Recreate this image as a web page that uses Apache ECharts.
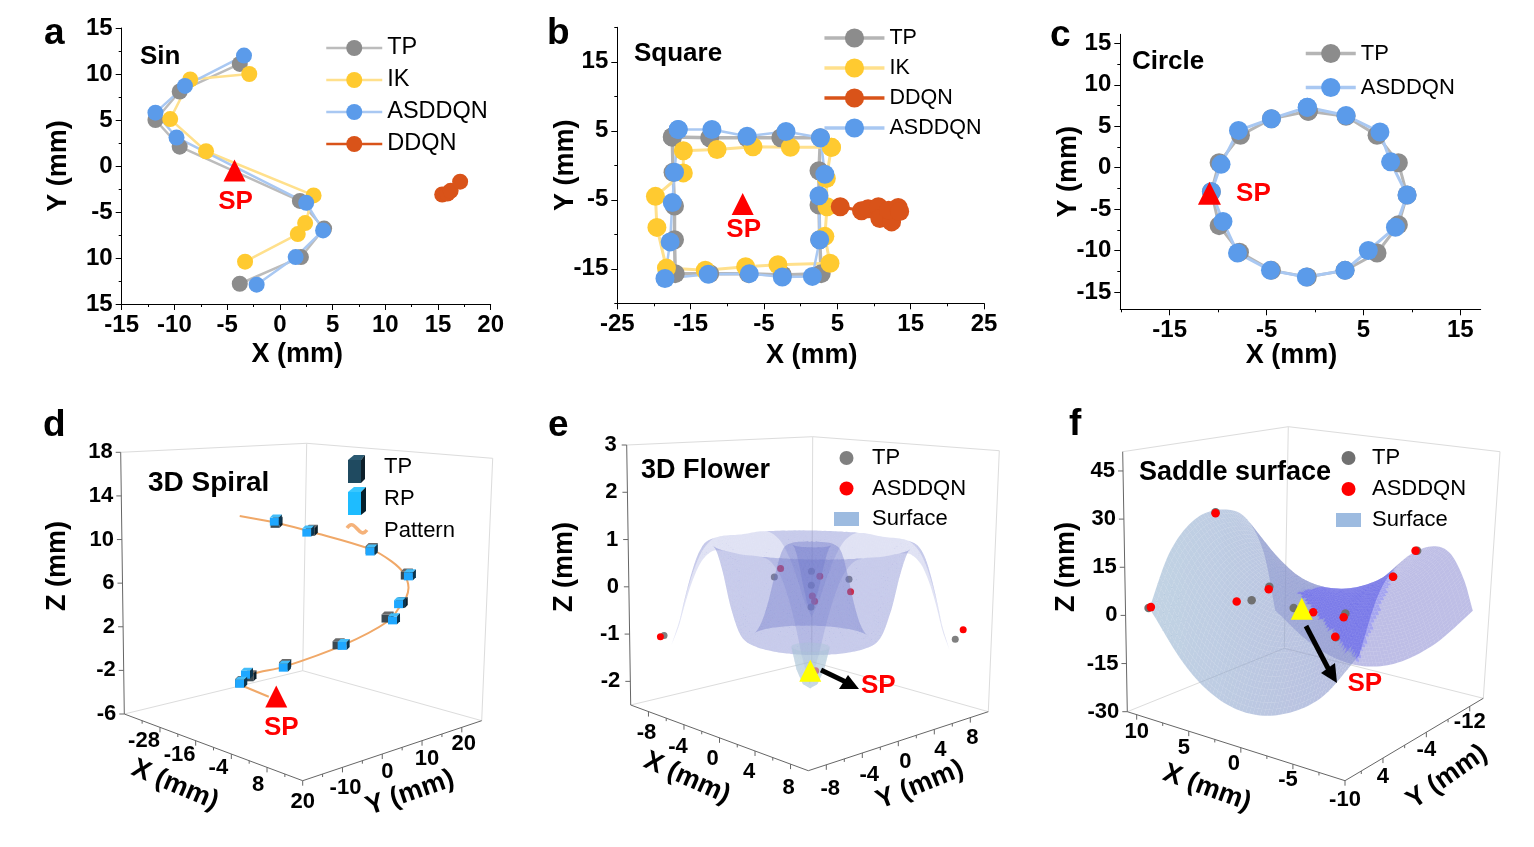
<!DOCTYPE html>
<html><head><meta charset="utf-8">
<style>html,body{margin:0;padding:0;background:#fff}#c{width:1534px;height:847px}</style>
<script src="https://cdn.jsdelivr.net/npm/echarts@6/dist/echarts.min.js"></script></head>
<body><div id="c"></div>
<script>
// ---------- panel a (Sin) ----------
const aTP=[[-3.8,11.1],[-9.5,8.1],[-11.8,5.0],[-9.5,2.1],[1.9,-3.8],[4.2,-6.8],[2.0,-9.9],[-3.8,-12.8]];
const aIK=[[-2.9,10.0],[-8.5,9.4],[-10.4,5.1],[-7.0,1.6],[3.2,-3.2],[2.4,-6.2],[1.7,-7.4],[-3.3,-10.4]];
const aASD=[[-3.4,12.0],[-9.0,8.7],[-11.8,5.8],[-9.8,3.1],[2.5,-4.0],[4.1,-7.0],[1.5,-9.9],[-2.2,-12.9]];
const aDDQN=[[15.4,-3.1],[15.9,-3.0],[16.2,-2.7],[17.1,-1.7]];
const aSP=[-4.3,-0.5];
const aXTicks=[-15,-10,-5,0,5,10,15,20];
const aYTicks=[15,10,5,0,-5,-10,-15];
const aYLabels=['15','10','5','0','-5','10','15'];
// ---------- panel b (Square) ----------
const bTP=[[-17.5,4.1],[-12.4,4],[-7.3,4],[-2.7,4],[2.7,4],[2.5,-0.8],[2.5,-5.75],[2.6,-10.8],[2.8,-15.7],[-2.5,-15.9],[-7.1,-15.7],[-12.4,-15.7],[-17.1,-15.7],[-17.2,-10.8],[-17.2,-5.9],[-17.4,-1]];
const bIK=[[4.2,2.6],[-1.4,2.6],[-6.5,2.7],[-11.4,2.3],[-16,2.1],[-16,-1.1],[-19.8,-4.5],[-19.6,-9],[-18.3,-14.9],[-13,-15.2],[-7.5,-14.7],[-3.1,-14.4],[4,-14.2],[3.3,-10.3],[3.6,-6],[3.5,-1.9]];
const bASD=[[-16.7,5.2],[-12.1,5.2],[-7.3,4.2],[-2,4.9],[2.7,4],[3.3,-1.3],[2.5,-4.4],[2.6,-10.8],[1.6,-16.1],[-2.5,-16.2],[-7,-15.7],[-12.6,-15.8],[-18.5,-16.4],[-17.8,-11.1],[-17.5,-5.4],[-17.2,-1]];
const bDDQN=[[5.4,-6],[8.3,-6.6],[9.2,-6.3],[10.6,-6],[10.8,-7.7],[12.4,-8.2],[12,-6.5],[13.3,-6.1],[13.5,-6.7]];
const bSP=[-7.9,-5.6];
const bXTicks=[-25,-15,-5,5,15,25], bXMinor=[-20,-10,0,10,20];
const bYTicks=[15,5,-5,-15], bYMinor=[20,10,0,-10,-20];
// ---------- panel c (Circle) ----------
const cTP=[[-0.7,6.8],[3.2,6.2],[6.4,3.9],[8.6,0.6],[9.5,-3.3],[8.6,-6.9],[6.4,-10.3],[3.1,-12.4],[-0.8,-13.2],[-4.5,-12.4],[-7.8,-10.2],[-9.9,-7],[-10.7,-2.9],[-9.9,0.6],[-7.7,3.9],[-4.5,5.9]];
const cASD=[[-0.8,7.3],[3.2,6.3],[6.7,4.3],[7.8,0.7],[9.5,-3.3],[8.3,-7.2],[5.5,-10],[3.1,-12.4],[-0.9,-13.2],[-4.6,-12.4],[-8,-10.3],[-9.5,-6.5],[-10.7,-2.9],[-9.7,0.4],[-7.9,4.5],[-4.5,5.9]];
const cSP=[-10.9,-3.1];
const cXTicks=[-15,-5,5,15], cXMinor=[-20,-10,0,10];
const cYTicks=[15,10,5,0,-5,-10,-15], cYMinor=[12.5,7.5,2.5,-2.5,-7.5,-12.5];
// ---------- panel d (3D Spiral), [x,y,z] ----------
const dPattern=[[-20.8,-5.6,12.35],[-14.9,-1.2,11.8],[-9.3,3,11.07],[0.8,10.6,9.53],[4.1,13.1,8.49],[6.1,14.6,7.47],[7,15.3,6.13],[6.7,15,5.23],[5.8,14.4,4.54],[3.9,12.9,3.12],[-3.4,7.4,0.94],[-13.2,0.1,-1.1],[-18.9,-4.1,-1.91],[-20.3,-5.2,-2.62]];
const dStartLink=[[-20,-5,-2.97],[-15.8,-1.8,-3.85]];
const dRP=[[-14.9,-1.2,12],[-9.6,2.8,11.06],[0.8,10.6,9.45],[7.2,15.4,7.25],[5.7,14.3,4.73],[4.8,13.6,3.27],[-3.4,7.4,0.94],[-13.1,0.1,-1.1],[-19.4,-4.6,-1.82],[-20.4,-5.3,-2.66]];
const dTP=[[-14.8,-1.1,11.8],[-9,3.2,11.14],[0.8,10.6,9.58],[6.7,15,7.32],[6,14.5,4.75],[3.7,12.8,3.43],[-4.3,6.8,0.98],[-13.1,0.2,-0.95],[-18.9,-4.1,-2.06],[-20.4,-5.3,-2.6]];
const dSP=[-14.5,-0.9,-3.81];
const dXTicks=[-28,-16,-4,8,20], dYTicks=[-10,0,10,20], dZTicks=[18,14,10,6,2,-2,-6];
// ---------- panel e (3D Flower) ----------
const eTP=[[-8.1,-8.1,-1.0],[-2.03,-2.03,0.29],[2.06,2.06,0.27],[0,0,0.13],[0,0,0.42],[0,0,-0.32],[8,8,-0.97]];
const eASD=[[-8.3,-8.3,-1.03],[-1.69,-1.69,0.47],[0.46,0.46,0.32],[2.16,2.16,0.01],[0.06,0.06,-0.09],[0.19,0.19,-0.2],[8.42,8.42,-0.77],[0.3,0.3,-1.64]];
const eSP=[0,0,-1.64];
const flowerEdge=7.7;
const flowerRadius=[0,0.3,0.6,1.0,1.4,1.9,2.3,2.8,3.4,3.9,4.4,5.0,5.6,6.3,6.9,7.5,8.2,8.8,9.3,9.8,10.3,10.9];
const flowerHeight=[-0.42,-0.25,0.1,0.6,0.95,0.95,0.82,0.35,-0.3,-0.7,-0.92,-1.0,-0.85,-0.3,0.42,0.9,0.95,0.7,0.3,-0.2,-0.75,-1.2];
const tipRadius=[0,0.6,1.1,1.5];
const tipHeight=[-2.0,-1.9,-1.6,-1.15];
const eXTicks=[-8,-4,0,4,8], eYTicks=[-8,-4,0,4,8], eZTicks=[3,2,1,0,-1,-2];
// ---------- panel f (Saddle surface) ----------
const fTP=[[9.6,9.5,2.4],[5.9,4.9,31.9],[2.9,1.2,8.6],[3.9,2.4,4.5],[1.5,-0.5,1.9],[-1.5,-4.1,-0.2],[-0.95,-3.5,-7.6],[-4.2,-7.4,11],[-5.5,-9.1,19]];
const fASD=[[9.5,9.3,2.6],[5.9,4.9,31.6],[2.9,1.3,7.9],[4.7,3.5,4.2],[0.4,-1.9,0.4],[-1.4,-4,-1.4],[-0.9,-3.5,-7.5],[-4.2,-7.4,11],[-5.4,-9,19]];
const fSP=[1,-1,1.7];
const saddleX=[10,6.9,4,0.8,-2.7,-6.4,-10];
const saddleY=[8.7,5.2,1,-3.5,-6.8,-9.5,-11.5];
const saddleZ=[
 [1.5,18,26.5,27,22,9,-13],
 [-12.5,4,13.3,15.4,10.9,-2,-20.5],
 [-20,-4,6.3,9.1,4.2,-8,-24.5],
 [-22.5,-7,4,7,2,-10.4,-25],
 [-20,-4,6.3,9.1,4.2,-8,-21],
 [-12.5,4,13,15.4,10.9,-1,-12],
 [1.5,17,24,25.5,22,12.5,1]];
const fXTicks=[10,5,0,-5,-10], fYTicks=[4,-4,-12], fZTicks=[45,30,15,0,-15,-30];

// ---------- styling ----------
const FONT='"Liberation Sans", Arial, sans-serif';
const GREY='#8c8c8c',GREYL='#bcbcbc',YEL='#ffca30',YELL='#ffe08c',BLUE='#5b9bea',BLUEL='#a9c8f2',ORG='#d95319';
const series=[],xAxes=[],yAxes=[],grids=[],legends=[],graphics=[];
const close=a=>a.concat([a[0]]);

function T(x,y,text,size,o={}){graphics.push({type:'text',x,y,z:20,rotation:o.rot||0,silent:true,
 style:{text,font:`${o.weight||'bold'} ${size}px ${FONT}`,fill:o.fill||'#000',align:o.align||'left',verticalAlign:'middle'}});}

function cart(i,box,xr,yr,xt,yt,xm,ym,xf,yf,xName,yName){
 grids.push({left:box[0],top:box[1],width:box[2],height:box[3],containLabel:false});
 const ax=(range,major,fmt,pos,name,gap,pad,rot)=>({type:'value',min:range[0],max:range[1],position:pos,
   name,nameLocation:'middle',nameGap:gap,nameRotate:rot,nameMoveOverlap:false,
   nameTextStyle:{fontFamily:FONT,fontWeight:'bold',fontSize:27,color:'#000',padding:pad},
   axisLine:{show:true,onZero:false,lineStyle:{color:'#000',width:1}},
   axisTick:{show:true,length:6,customValues:major,lineStyle:{color:'#000'}},
   axisLabel:{show:true,customValues:major,margin:9,fontFamily:FONT,fontWeight:'bold',fontSize:24,color:'#000',formatter:fmt,hideOverlap:false},
   splitLine:{show:false}});
 const mn=(range,minor,pos)=>({type:'value',min:range[0],max:range[1],position:pos,
   axisLine:{show:false,onZero:false},axisTick:{show:true,length:3,customValues:minor,lineStyle:{color:'#000'}},
   axisLabel:{show:false},splitLine:{show:false}});
 xAxes.push(ax(xr,xt,xf,'bottom',xName[0],xName[1],xName[2],0),Object.assign(mn(xr,xm,'bottom'),{gridIndex:i}));
 xAxes[xAxes.length-2].gridIndex=i;
 yAxes.push(ax(yr,yt,yf,'left',yName[0],yName[1],yName[2],90),Object.assign(mn(yr,ym,'left'),{gridIndex:i}));
 yAxes[yAxes.length-2].gridIndex=i;
}
function lineS(name,i,data,col,lcol,lw,size){series.push({type:'line',name,data,xAxisIndex:i*2,yAxisIndex:i*2,
 symbol:'circle',symbolSize:size,showSymbol:true,itemStyle:{color:col,opacity:1},lineStyle:{color:lcol,width:lw},z:3});}
function spMark(name,i,pt,col,size,off,zz){series.push({type:'scatter',name,data:[pt],xAxisIndex:i*2,yAxisIndex:i*2,symbol:'triangle',symbolSize:size,
 itemStyle:{color:col,opacity:1},z:zz||6,label:{show:true,formatter:'SP',position:'inside',offset:off,color:'#ff0000',fontFamily:FONT,fontWeight:'bold',fontSize:26}});}
function legend2D(left,top,data,w,h,gap,font,lw){legends.push({show:true,left,top,padding:0,orient:'vertical',data,itemWidth:w,itemHeight:h,itemGap:gap,selectedMode:false,
 lineStyle:{width:lw},formatter:n=>n.split(':')[1],textStyle:{fontFamily:FONT,fontSize:font,color:'#000',padding:0}});}

// a
cart(0,[121.7,28,369,276],[-15,20],[-15,15],aXTicks,aYTicks,[-12.5,-7.5,-2.5,2.5,7.5,12.5,17.5],[12.5,7.5,2.5,-2.5,-7.5,-12.5],
 v=>String(v),v=>aYLabels[aYTicks.indexOf(v)],['X (mm)',37,[0,18,0,0]],['Y (mm)',50,0]);
lineS('a:DDQN',0,aDDQN,ORG,ORG,2.5,16);lineS('a:TP',0,aTP,GREY,GREYL,2.5,16);lineS('a:IK',0,aIK,YEL,YELL,2.5,16);lineS('a:ASDDQN',0,aASD,BLUE,BLUEL,2.5,16);
spMark('SP a',0,aSP,'#ff0000',22,[1,31]);
legend2D(325,36,['a:TP','a:IK','a:ASDDQN','a:DDQN'],56,20,8,23.5,2.5);
// b
cart(1,[617.3,27.3,366.7,276],[-25,25],[-20,20],bXTicks,bYTicks,bXMinor,bYMinor,v=>String(v),v=>String(v),['X (mm)',39,[0,0,0,22]],['Y (mm)',38.5,0]);
lineS('b:TP',1,close(bTP),GREY,'#b5b5b5',3.5,19);lineS('b:IK',1,close(bIK),YEL,YELL,3,19);lineS('b:DDQN',1,bDDQN,ORG,ORG,3,19);lineS('b:ASDDQN',1,close(bASD),BLUE,BLUEL,2.5,19);
spMark('SP b',1,bSP,'#ff0000',22,[1,26]);
legend2D(822.7,27,['b:TP','b:IK','b:DDQN','b:ASDDQN'],60,24,8,21.5,3.5);
// c
cart(2,[1120.3,34.3,360.4,275],[-20.1,17.1],[-17.1,16.1],cXTicks,cYTicks,cXMinor,cYMinor,v=>String(v),v=>String(v),['X (mm)',33,[0,18,0,0]],['Y (mm)',38.5,0]);
lineS('c:TP',2,close(cTP),GREY,'#b5b5b5',3,19);lineS('c:ASDDQN',2,close(cASD),BLUE,BLUEL,3,19);
spMark('SP c',2,cSP,'#ff0000',23,[44,0]);
legend2D(1304,42.5,['c:TP','c:ASDDQN'],50,24,12,22,3.5);

// ---------- hidden page-plane grid for the three projected 3-D boxes ----------
grids.push({left:0,top:0,width:1534,height:847,containLabel:false});
xAxes.push({type:'value',gridIndex:3,min:0,max:1534,show:false});xAxes.push({type:'value',gridIndex:3,min:0,max:1534,show:false});
yAxes.push({type:'value',gridIndex:3,min:0,max:847,inverse:true,show:false});yAxes.push({type:'value',gridIndex:3,min:0,max:847,inverse:true,show:false});
const S3={xAxisIndex:6,yAxisIndex:6,coordinateSystem:'cartesian2d'};

function makeBox(L,F,R,B,tL,tF,tR,tB,mapU,mapV,mapW){
 const tri=(u,v,w)=>{const r=[];for(let k=0;k<2;k++){
   const fl=L[k]*(1-u)*(1-v)+F[k]*u*(1-v)+B[k]*(1-u)*v+R[k]*u*v;
   const tp=tL[k]*(1-u)*(1-v)+tF[k]*u*(1-v)+tB[k]*(1-u)*v+tR[k]*u*v;
   r.push(fl*(1-w)+tp*w);}return r;};
 return {L,F,R,B,tL,tF,tR,tB,mapU,mapV,mapW,tri,p:(a)=>tri(mapU(a[0]),mapV(a[1]),mapW(a[2])),uv:a=>[mapU(a[0]),mapV(a[1])]};
}
const boxD=makeBox([124.3,714],[302.7,780.7],[481.7,720.7],[302.7,670.7],[120.7,452.3],[308.3,463.3],[492.7,458.3],[306.7,443.3],x=>(x+40)/60,y=>(y+20)/45,z=>(z+6)/24);
const boxE=makeBox([630.7,705],[808.3,770.7],[988.3,711.7],[811.7,661.7],[626.7,445],[813.3,455],[999.3,450.7],[812.7,436.7],x=>(x+10)/20,y=>(y+10)/20,z=>(z+2.5)/5.5);
const boxF=makeBox([1127.3,711.7],[1345,780.7],[1483.3,698.3],[1284.3,648.3],[1122.7,451.7],[1348,471.7],[1500,451.7],[1288.3,426.7],x=>(10.9-x)/20.9,y=>(11-y)/25.5,z=>(z+30)/81);

function segSeries(name,segs,color,w,zz){series.push(Object.assign({type:'custom',name,data:segs,encode:{x:[0,2],y:[1,3]},silent:true,z:zz||1,clip:false,
 renderItem:(p,api)=>{const a=api.coord([api.value(0),api.value(1)]),b=api.coord([api.value(2),api.value(3)]);
  return {type:'line',shape:{x1:a[0],y1:a[1],x2:b[0],y2:b[1]},style:{stroke:color,lineWidth:w,fill:null}};}},S3));}
function textSeries(name,items,size,align){series.push(Object.assign({type:'custom',name,data:items.map(i=>[i[0],i[1]]),encode:{x:0,y:1},silent:true,z:4,clip:false,
 renderItem:(p,api)=>{const a=api.coord([api.value(0),api.value(1)]);
  return {type:'text',x:a[0],y:a[1],style:{text:items[p.dataIndex][2],font:`bold ${size}px ${FONT}`,fill:'#000',align:align||'center',verticalAlign:'middle'}};}},S3));}
function frame(tag,b,xv,xmin,yv,ymin,zv,xfix,yfix,zfix,xo,yo,zo){
 const dark=[],light=[];
 const s=(a,c)=>[a[0],a[1],c[0],c[1]];
 dark.push(s(b.L,b.F),s(b.F,b.R),s(b.L,b.tL));
 light.push(s(b.B,b.L),s(b.B,b.R),s(b.tL,b.tB),s(b.tB,b.tR),s(b.B,b.tB),s(b.R,b.tR));
 const xLab=[],yLab=[],zLab=[];
 xv.forEach((v,i)=>{const q=b.p([v,xfix,zfix]);dark.push([q[0],q[1],q[0],q[1]+5]);xLab.push([q[0]+xo[i][0],q[1]+xo[i][1],String(v)]);});
 xmin.forEach(v=>{const q=b.p([v,xfix,zfix]);dark.push([q[0],q[1],q[0],q[1]+3]);});
 yv.forEach((v,i)=>{const q=b.p([yfix,v,zfix]);dark.push([q[0],q[1],q[0],q[1]+5]);yLab.push([q[0]+yo[i][0],q[1]+yo[i][1],String(v)]);});
 ymin.forEach(v=>{const q=b.p([yfix,v,zfix]);dark.push([q[0],q[1],q[0],q[1]+3]);});
 zv.forEach(v=>{const q=b.p([zo[0],zo[1],v]);dark.push([q[0],q[1],q[0]-5,q[1]]);zLab.push([q[0]-zo[2],q[1],String(v)]);});
 segSeries(tag+' light',light,'#dcdcdc',1,1);segSeries(tag+' axes',dark,'#666',1,1);
 textSeries(tag+' x',xLab,22);textSeries(tag+' y',yLab,22);textSeries(tag+' z',zLab,22,'right');
}
frame('d',boxD,dXTicks,[-34,-22,-10,2,14],dYTicks,[-15,-5,5,15],dZTicks,-20,20,-6,
 [[-16,14],[-16,14],[-13,14],[-9,18],[0,21]],[[3,21],[5,18],[5,18],[2,17]],[-40,-20,8]);
frame('e',boxE,eXTicks,[-6,-2,2,6],eYTicks,[-6,-2,2,6],eZTicks,-10,10,-2.5,
 [[-2,21],[-6,22],[-7,21],[-6,21],[-2,24]],[[4,24],[7,22],[7,21],[6,21],[2,20]],[-10,-10,10]);
frame('f',boxF,fXTicks,[7.5,2.5,-2.5,-7.5],fYTicks,[8,0,-8],fZTicks,11,-10,-30,
 [[0,17],[-5,17],[-7,16],[-5,16],[0,19]],[[0,19],[0,18],[0,16]],[10.9,11,8]);

// ---------- d marks ----------
series.push(Object.assign({type:'line',name:'d:Pattern',data:dPattern.map(boxD.p),smooth:0.35,symbol:'none',lineStyle:{color:'#f0a868',width:2},itemStyle:{color:'#f0a868'},z:3},S3));
series.push(Object.assign({type:'line',name:'d link',data:dStartLink.map(boxD.p),symbol:'none',lineStyle:{color:'#f0a868',width:2},z:3},S3));
function cubes(name,pts,fr,top,side,zz){const v=pts.map(boxD.p);
 series.push(Object.assign({type:'custom',name,data:v,encode:{x:0,y:1},itemStyle:{color:fr},silent:true,z:zz,clip:false,
 renderItem:(p,api)=>{const c=api.coord([api.value(0),api.value(1)]),x=c[0],y=c[1];
  const poly=(pts,fill)=>({type:'polygon',shape:{points:pts.map(q=>[x+q[0],y+q[1]])},style:{fill}});
  return {type:'group',children:[poly([[-6,-3],[3,-3],[3,5],[-6,5]],fr),poly([[-6,-3],[-3,-6],[6,-6],[3,-3]],top),poly([[3,-3],[6,-6],[6,2],[3,5]],side)]};}},S3));}
cubes('d:TP',dTP,'#3c4a52','#6a6a6a','#0d1f2a',4);
cubes('d:RP',dRP,'#1ea7ff','#43bdf9','#0a3550',5);
series.push(Object.assign({type:'scatter',name:'SP d',data:[boxD.p(dSP)],symbol:'triangle',symbolSize:22,itemStyle:{color:'#ff0000',opacity:1},z:6,
 label:{show:true,formatter:'SP',position:'inside',offset:[5,31],color:'#ff0000',fontFamily:FONT,fontWeight:'bold',fontSize:26}},S3));
legends.push({show:true,left:347,top:455,padding:0,orient:'vertical',data:['d:TP','d:RP','d:Pattern'],icon:'rect',itemWidth:18,itemHeight:24,itemGap:8,selectedMode:false,
 itemStyle:{opacity:0},lineStyle:{opacity:0},formatter:n=>n.split(':')[1],textStyle:{fontFamily:FONT,fontSize:22,color:'#000',padding:[0,0,0,14]}});
const G=(points,fill)=>graphics.push({type:'polygon',z:20,silent:true,shape:{points},style:{fill}});
G([[348,460],[361,460],[361,483],[348,483]],'#1f4a60');G([[348,460],[354,455],[365,455],[361,460]],'#2b5a72');G([[361,460],[365,455],[365,479],[361,483]],'#0d1f2a');
G([[348,492],[361,492],[361,515],[348,515]],'#1ebcff');G([[348,492],[354,487],[366,487],[361,492]],'#39c7ff');G([[361,492],[366,487],[366,511],[361,515]],'#05202c');
graphics.push({type:'bezierCurve',z:20,silent:true,shape:{x1:347,y1:528,x2:367,y2:530,cpx1:355,cpy1:516,cpx2:359,cpy2:541},style:{stroke:'#f5b27a',lineWidth:3.5,fill:null}});

// ---------- surface quads ----------
function quadSeries(name,quads,legendColor,zz){
 quads.sort((a,b)=>a.d-b.d);
 series.push(Object.assign({type:'custom',name,data:quads.map(q=>q.c),encode:{x:0,y:1},itemStyle:{color:legendColor},silent:true,z:zz,clip:false,progressive:0,animation:false,
 renderItem:(p,api)=>{const q=quads[p.dataIndex];
   return {type:'polygon',shape:{points:q.pts.map(v=>api.coord(v))},style:{fill:q.fill,stroke:null}};}},S3));
}
function cr(a,b,c,d,t){return 0.5*(2*b+(c-a)*t+(2*a-5*b+4*c-d)*t*t+(3*b-a-3*c+d)*t*t*t);}
function row(arr,f){const n=arr.length-1,i=Math.min(Math.floor(f),n-1),t=f-i;
 const g=k=>arr[Math.max(0,Math.min(n,k))];
 return cr(i===0?2*g(0)-g(1):g(i-1),g(i),g(i+1),i+1>=n?2*g(n)-g(n-1):g(i+2),t);}
// flower: the read radial profile sampled over the square domain
function flowerZ(x,y){const r=Math.sqrt(x*x+y*y);let i=0;while(i<flowerRadius.length-2&&flowerRadius[i+1]<r)i++;
 return row(flowerHeight,i+Math.min(1,(r-flowerRadius[i])/(flowerRadius[i+1]-flowerRadius[i])));}
(function(){const N=66,h=2*flowerEdge/N,q=[];
 for(let i=0;i<N;i++)for(let j=0;j<N;j++){const x=-flowerEdge+i*h,y=-flowerEdge+j*h;
  const c=[[x,y],[x+h,y],[x+h,y+h],[x,y+h]].map(v=>[v[0],v[1],flowerZ(v[0],v[1])]);
  const pts=c.map(boxE.p);
  q.push({pts,c:[(pts[0][0]+pts[2][0])/2,(pts[0][1]+pts[2][1])/2],d:x-y,fill:'rgba(112,125,205,0.22)'});}
 quadSeries('e:Surface',q,'#9dbbe0',3);})();
// the small cup under the flower
(function(){const q=[],N=40;
 for(let i=0;i<tipRadius.length-1;i++)for(let j=0;j<N;j++){
  const a0=j/N*2*Math.PI,a1=(j+1)/N*2*Math.PI,P=(r,h,a)=>[r*Math.cos(a),r*Math.sin(a),h];
  const c=[P(tipRadius[i],tipHeight[i],a0),P(tipRadius[i+1],tipHeight[i+1],a0),P(tipRadius[i+1],tipHeight[i+1],a1),P(tipRadius[i],tipHeight[i],a1)];
  const pts=c.map(boxE.p);
  q.push({pts,c:[(pts[0][0]+pts[2][0])/2,(pts[0][1]+pts[2][1])/2],d:c[0][0]-c[0][1],fill:'rgba(170,195,215,0.42)'});}
 quadSeries('e tip',q,'#c0d0e0',3);})();
// saddle: smooth the read table for drawing; the far fold of the sheet is shaded deeper
function sad(fi,fj){const col=saddleZ.map(r=>row(r,fj));return [row(saddleX,fi),row(saddleY,fj),row(col,fi)];}
const foldShade=[[1298,592],[1395,570],[1358,662]];
function inFold(x,y){const s=(a,b)=>(b[0]-a[0])*(y-a[1])-(b[1]-a[1])*(x-a[0]);const t=foldShade;
 const d1=s(t[0],t[1]),d2=s(t[1],t[2]),d3=s(t[2],t[0]);return (d1>=0&&d2>=0&&d3>=0)||(d1<=0&&d2<=0&&d3<=0);}
(function(){const N=60,q=[],m=6/N;
 const signedArea=p=>{let s=0;for(let k=0;k<4;k++){const a=p[k],b=p[(k+1)%4];s+=a[0]*b[1]-b[0]*a[1];}return s/2;};
 for(let i=0;i<N;i++)for(let j=0;j<N;j++){
  const c=[sad(i*m,j*m),sad((i+1)*m,j*m),sad((i+1)*m,(j+1)*m),sad(i*m,(j+1)*m)];
  const pts=c.map(boxF.p),mx=(pts[0][0]+pts[2][0])/2,my=(pts[0][1]+pts[2][1])/2;
  const uv=boxF.uv(c[0]);
  const k=Math.max(0,Math.min(1,(mx-1140)/340));
  const under=signedArea(pts)>0;
  const r=Math.round(150-30*k),gg=Math.round(182-62*k),b=Math.round(208-10*k);
  const fill=inFold(mx,my)?'rgba(90,90,228,0.55)':under?'rgba(125,125,205,0.5)':`rgba(${r},${gg},${b},0.58)`;
  q.push({pts,c:[mx,my],d:uv[0]-uv[1],fill});
 }
 quadSeries('f:Surface',q,'#9dbbe0',3);
})();

// ---------- e, f points ----------
function dots(name,pts,box,col,size,zz){series.push(Object.assign({type:'scatter',name,data:pts.map(box.p),symbol:'circle',symbolSize:size,itemStyle:{color:col,opacity:1},z:zz},S3));}
dots('e:TP',eTP,boxE,'#808080',7,2);dots('e:ASDDQN',eASD,boxE,'#ff0000',7,2);
dots('f:TP',fTP,boxF,'#707070',8.5,4);dots('f:ASDDQN',fASD,boxF,'#ff0000',8.5,5);
function sp3(name,box,pt,off){series.push(Object.assign({type:'scatter',name,data:[box.p(pt)],symbol:'triangle',symbolSize:22,itemStyle:{color:'#ffff00',opacity:1},z:6,
 label:{show:true,formatter:'SP',position:'inside',offset:off,color:'#ff0000',fontFamily:FONT,fontWeight:'bold',fontSize:26}},S3));}
sp3('SP e',boxE,eSP,[68,15]);sp3('SP f',boxF,fSP,[63,75]);
function legend3(left,top,tag,gap,pad){legends.push({show:true,left,top,padding:0,orient:'vertical',itemWidth:25,itemHeight:14,itemGap:gap,selectedMode:false,
 data:[{name:tag+':TP',icon:'circle'},{name:tag+':ASDDQN',icon:'circle'},{name:tag+':Surface',icon:'rect'}],
 formatter:n=>n.split(':')[1],textStyle:{fontFamily:FONT,fontSize:22,color:'#000',padding:[0,0,0,pad]}});}
legend3(834,447,'e',8.5,8);legend3(1336,447,'f',9,6);
// arrows
function arrow(x1,y1,x2,y2,head){graphics.push({type:'line',z:20,silent:true,shape:{x1,y1,x2,y2},style:{stroke:'#000',lineWidth:5}});G(head,'#000');}
arrow(821,670,848,683,[[859,689],[848,675],[839,689]]);
arrow(1306,626,1330,672,[[1337,683],[1321,673],[1335,663]]);

// ---------- text ----------
T(44,34,'a',37);T(547,34,'b',37);T(1050,36,'c',37);T(43,426,'d',37);T(548,426,'e',37);T(1069,425,'f',37);
T(140,57,'Sin',26);T(634,54,'Square',26);T(1132,62,'Circle',26);
T(148,483,'3D Spiral',28);T(641,471,'3D Flower',27);T(1139,473,'Saddle surface',27);
const R=d=>d*Math.PI/180;
T(175,785,'X (mm)',27,{rot:R(-23),align:'center'});T(410,793,'Y (mm)',27,{rot:R(19),align:'center'});T(58,566,'Z (mm)',27,{rot:R(90),align:'center'});
T(687,778,'X (mm)',27,{rot:R(-24),align:'center'});T(920,785,'Y (mm)',27,{rot:R(22),align:'center'});T(565,567,'Z (mm)',27,{rot:R(90),align:'center'});
T(1207,788,'X (mm)',27,{rot:R(-20),align:'center'});T(1447,777,'Y (mm)',27,{rot:R(35),align:'center'});T(1067,567,'Z (mm)',27,{rot:R(90),align:'center'});

const chart=echarts.init(document.getElementById('c'),null,{renderer:'canvas',width:1534,height:847});
chart.setOption({animation:false,backgroundColor:'#fff',tooltip:{show:false},grid:grids,xAxis:xAxes,yAxis:yAxes,legend:legends,series,graphic:{elements:graphics}});
</script></body></html>
